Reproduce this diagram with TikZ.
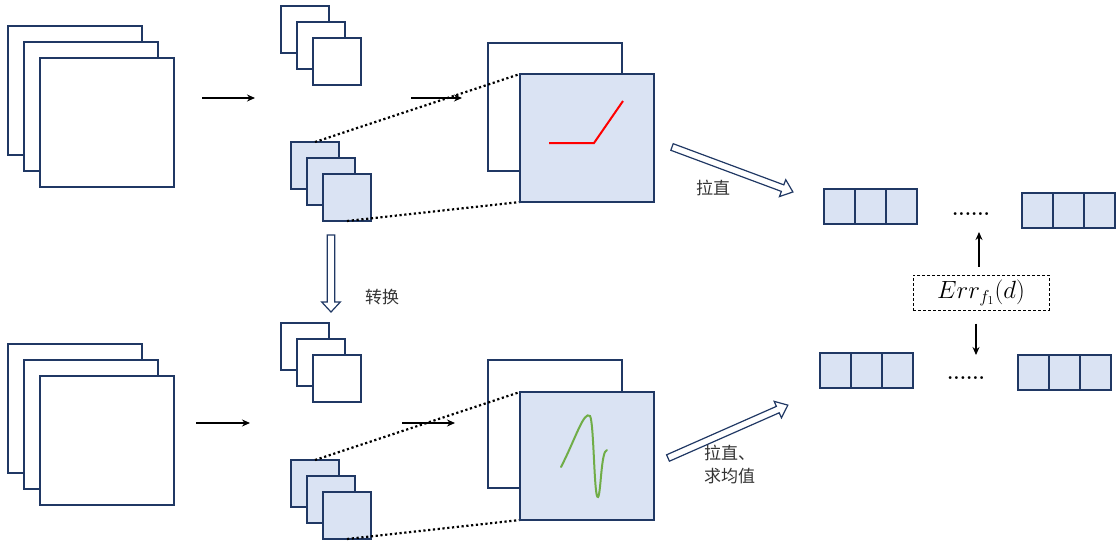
\documentclass[tikz,border=0pt]{standalone}
\usepackage{fontspec}
\newfontfamily\cjk{Noto Sans CJK SC}
\usetikzlibrary{arrows.meta,calc}
\definecolor{navy}{HTML}{203864}
\definecolor{lblue}{HTML}{DAE3F3}
\definecolor{grn}{HTML}{70AD47}
\begin{document}
\begin{tikzpicture}[x=1pt,y=-1pt,
  box/.style={draw=navy, line width=1.4pt, fill=white, anchor=north west, inner sep=0pt, outer sep=0pt},
  big/.style={box, minimum width=134pt, minimum height=129pt},
  mid/.style={box, minimum width=134pt, minimum height=128pt},
  small/.style={box, minimum width=48pt, minimum height=47pt},
  bfill/.style={fill=lblue},
  cell/.style={box, fill=lblue, minimum width=31pt, minimum height=35pt},
  arr/.style={-{Stealth[length=8pt,width=7pt]}, line width=1.3pt, black},
  dots/.style={line width=2.2pt, dash pattern=on 2.2pt off 2.6pt, black},
  lbl/.style={font=\cjk\fontsize{17}{23}\selectfont, text=black!80, inner sep=0pt},
  harrow/.style={draw=navy, line width=1.2pt, fill=white},
  ell/.style={font=\bfseries\fontsize{20}{20}\selectfont, inner sep=0pt, anchor=base}]
\useasboundingbox (0,0) rectangle (1118,543);

% left stacks
\node[big] (a1) at (8,26) {};
\node[big] (a2) at (24,42) {};
\node[big] (a3) at (40,58) {};
\node[big] (b1) at (8,344) {};
\node[big] (b2) at (24,360) {};
\node[big] (b3) at (40,376) {};

% arrows left -> small
\coordinate (p1) at (202,98); \coordinate (p2) at (255,98);
\draw[arr] (p1) -- (p2);
\coordinate (q1) at (196,423); \coordinate (q2) at (250,423);
\draw[arr] (q1) -- (q2);

% small white stacks
\node[small] (w1) at (281,6) {};
\node[small] (w2) at (297,22) {};
\node[small] (w3) at (313,38) {};
\node[small] (v1) at (281,323) {};
\node[small] (v2) at (297,339) {};
\node[small] (v3) at (313,355) {};

% small blue stacks
\node[small,bfill] (s1) at (291,142) {};
\node[small,bfill] (s2) at (307,158) {};
\node[small,bfill] (s3) at (323,174) {};
\node[small,bfill] (t1) at (291,460) {};
\node[small,bfill] (t2) at (307,476) {};
\node[small,bfill] (t3) at (323,492) {};

% middle arrows
\coordinate (m1) at (411,98); \coordinate (m2) at (462,98);
\draw[arr] (m1) -- (m2);
\coordinate (n1) at (402,423); \coordinate (n2) at (455,423);
\draw[arr] (n1) -- (n2);

% big middle squares
\node[mid] (W) at (488,43) {};
\node[mid] (V) at (488,360) {};
\draw[dots] (s1.north) -- (520,74);
\draw[dots] (s3.south) -- (520,202);
\draw[dots] (t1.north) -- (520,392);
\draw[dots] (t3.south) -- (520,520);
\node[mid,bfill] (B) at (520,74) {};
\node[mid,bfill] (C) at (520,392) {};

% curves
\draw[red, line width=2pt] (549,143) -- (594,143) -- (623,101);
\draw[grn, line width=2pt, line cap=round] (561,467) .. controls (575,440) and (584,410) .. (590,416)
  .. controls (594,422) and (594,500) .. (598,497) .. controls (601,494) and (601,450) .. (607,450);

% hollow arrows
\begin{scope}[shift={(672,147)}, rotate=-20.4]
\draw[harrow] (0,-3.5) -- (118,-3.5) -- (118,-9) -- (129,0) -- (118,9) -- (118,3.5) -- (0,3.5) -- cycle;
\end{scope}
\begin{scope}[shift={(668,458)}, rotate=23.8]
\draw[harrow] (0,-3.5) -- (120,-3.5) -- (120,-9) -- (131,0) -- (120,9) -- (120,3.5) -- (0,3.5) -- cycle;
\end{scope}
\begin{scope}[shift={(331,235)}, rotate=-90]
\draw[harrow] (0,-3.7) -- (67,-3.7) -- (67,-9.3) -- (77,0) -- (67,9.3) -- (67,3.7) -- (0,3.7) -- cycle;
\end{scope}

% labels
\node[lbl] (l1) at (713,188) {拉直};
\node[lbl] (l2) at (382,297) {转换};
\node[lbl, align=left, anchor=north west] (l3) at (704,445) {拉直、\\求均值};

% vectors
\node[cell] (c1) at (824,189) {};
\node[cell] (c2) at (855,189) {};
\node[cell] (c3) at (886,189) {};
\node[cell] (c4) at (1022,193) {};
\node[cell] (c5) at (1053,193) {};
\node[cell] (c6) at (1084,193) {};
\node[cell] (d1) at (820,353) {};
\node[cell] (d2) at (851,353) {};
\node[cell] (d3) at (882,353) {};
\node[cell] (d4) at (1018,355) {};
\node[cell] (d5) at (1049,355) {};
\node[cell] (d6) at (1080,355) {};
\node[ell] (e1) at (971,215) {......};
\node[ell] (e2) at (966,379) {......};

% error box
\node[draw=black, dash pattern=on 3pt off 2pt, line width=1pt, minimum width=136pt, minimum height=35pt, inner sep=0pt,
  font=\fontsize{23}{23}\selectfont] (err) at (981,292.5) {$Err_{f_1}(d)$};
\coordinate (u) at (979,232);
\draw[arr, shorten <=8pt] (err.north -| u) -- (u);
\coordinate (dd) at (976,355);
\draw[arr, shorten <=13pt] (err.south -| dd) -- (dd);
\end{tikzpicture}
\end{document}
